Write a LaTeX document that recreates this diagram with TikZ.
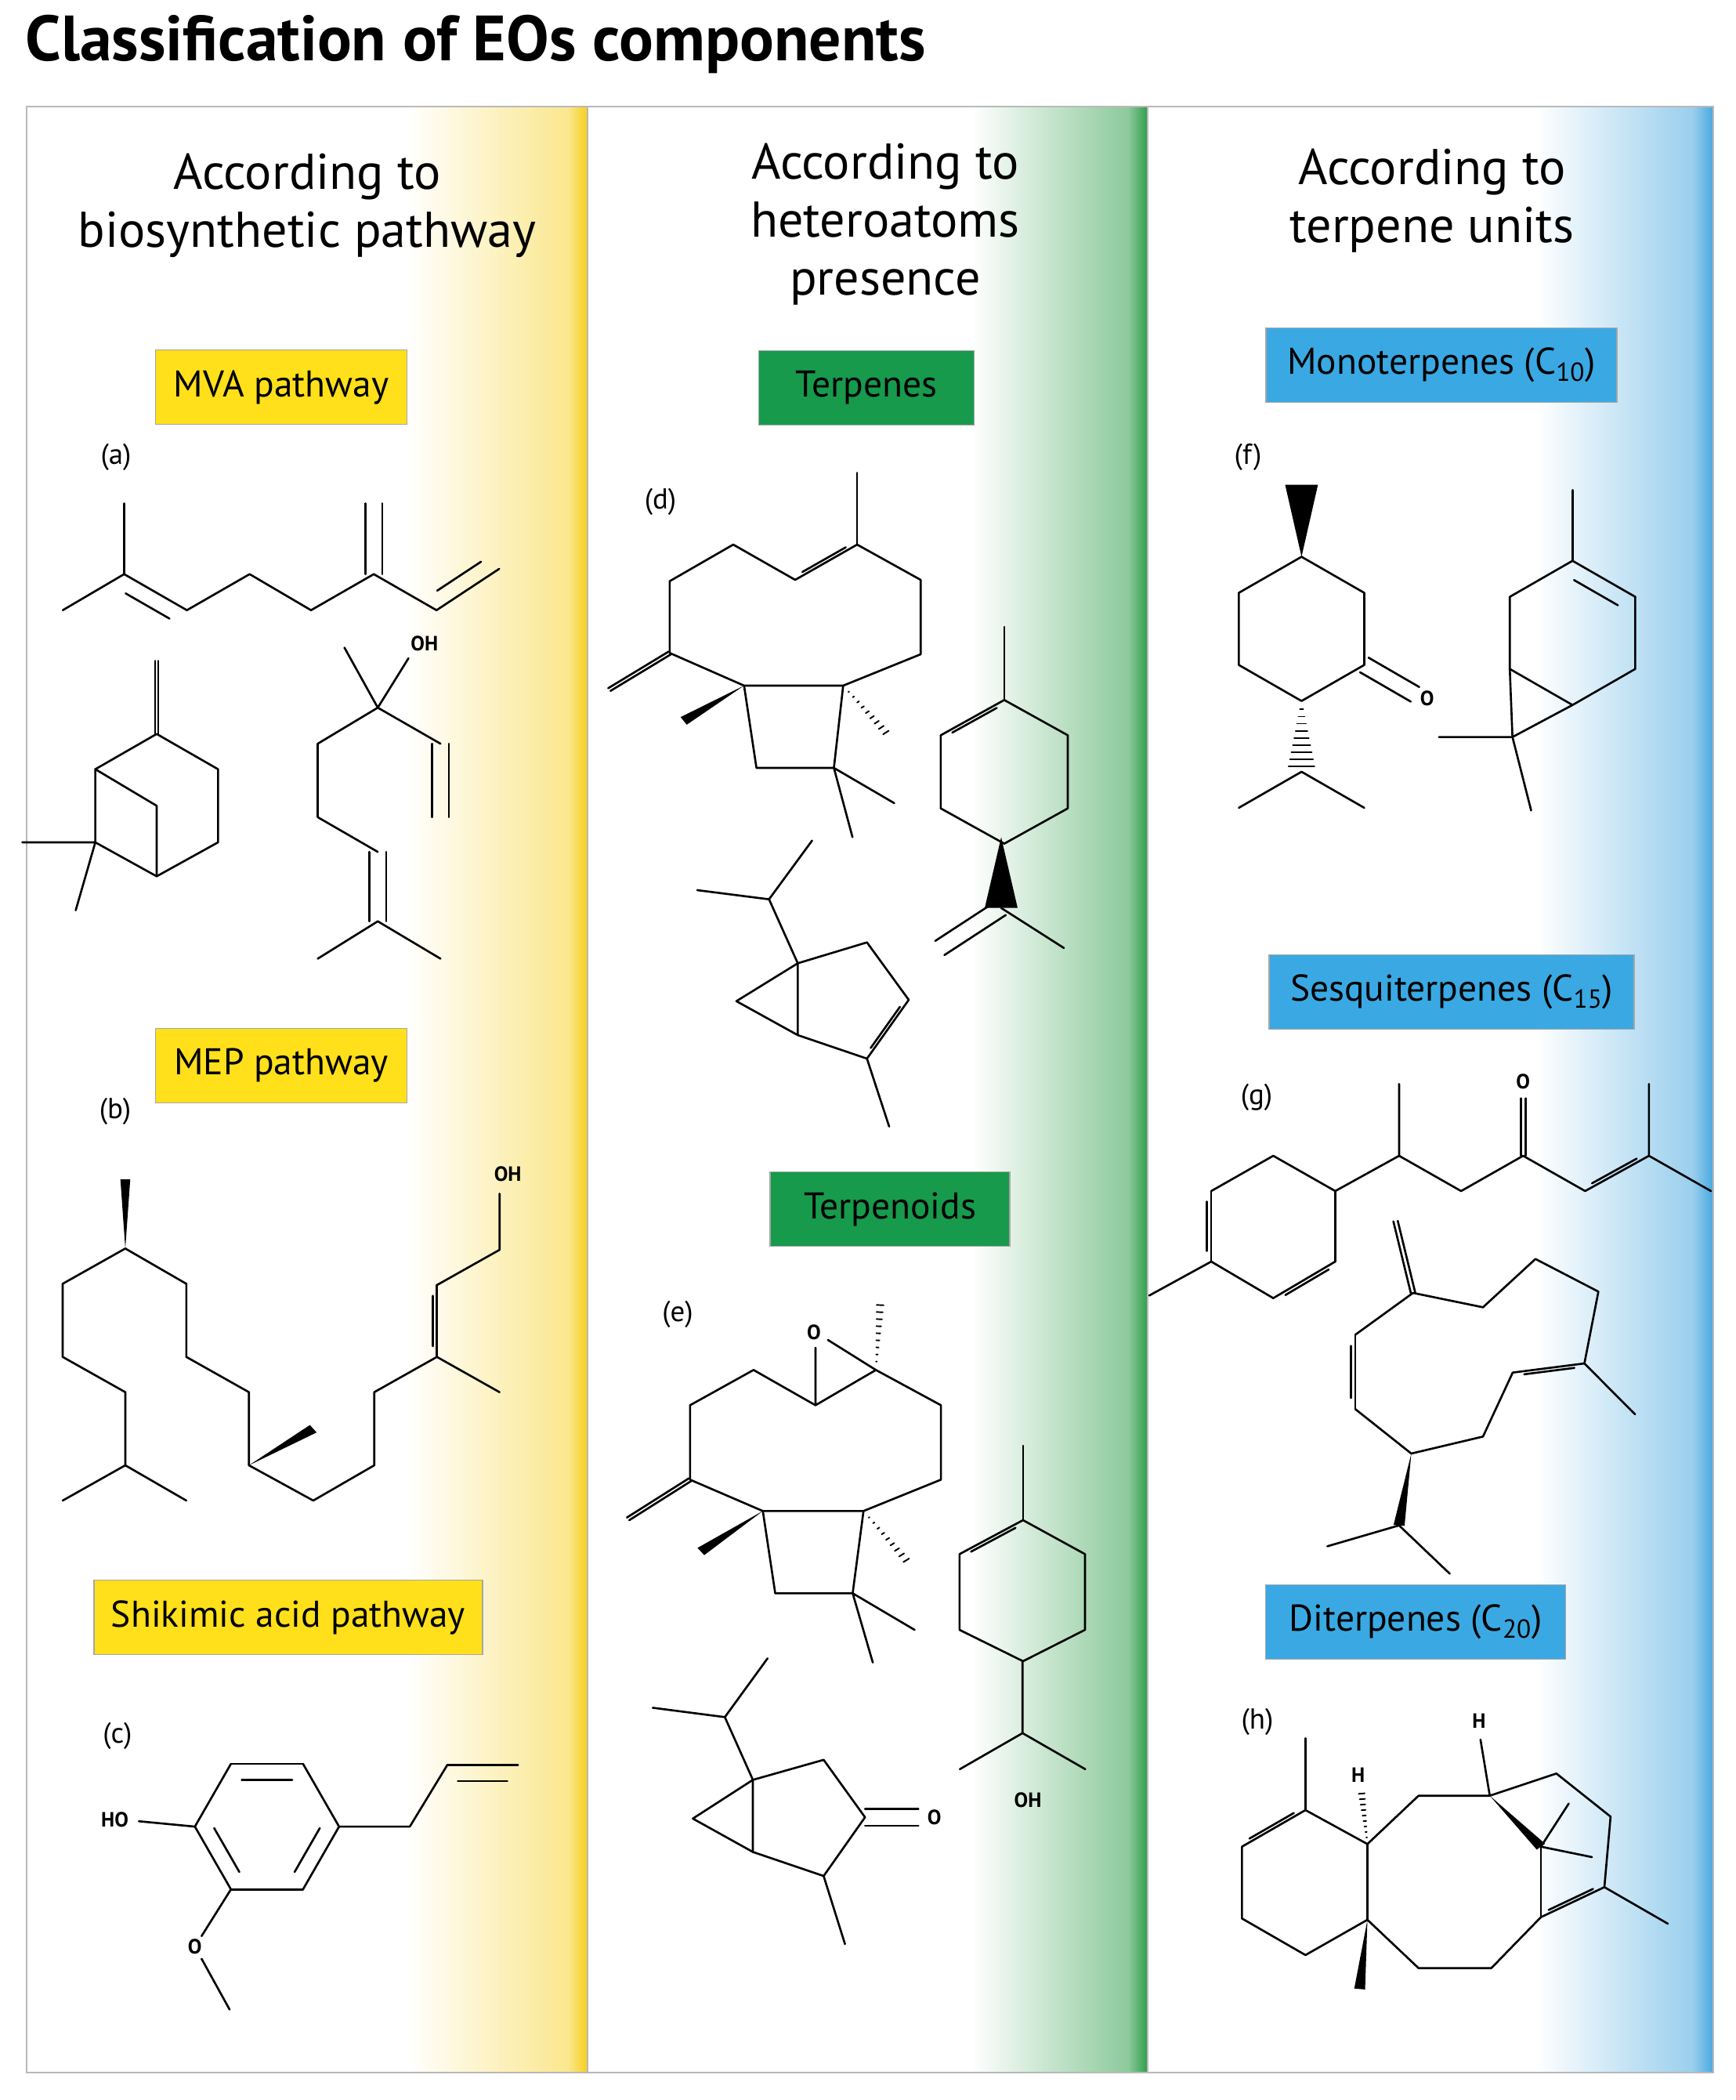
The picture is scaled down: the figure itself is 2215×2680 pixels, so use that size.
\documentclass[tikz,border=0pt]{standalone}
\usepackage{fontspec}
\setmainfont{PT Sans}
\usetikzlibrary{calc}
\definecolor{yel}{HTML}{FFE01B}
\definecolor{yelE}{HTML}{F6CF1C}
\definecolor{grn}{HTML}{179A4C}
\definecolor{grnE}{HTML}{2F9E4A}
\definecolor{blu}{HTML}{3AA9E3}
\definecolor{bluE}{HTML}{48A8DF}
\newcommand\dbi[3]{\draw (#1)--(#2); \draw ($(#1)!0.15!(#2)!#3!90:(#2)$)--($(#2)!0.15!(#1)!#3!-90:(#1)$);}
\newcommand\dbc[2]{\draw ($(#1)!3.6pt!90:(#2)$)--($(#2)!3.6pt!-90:(#1)$); \draw ($(#1)!3.6pt!-90:(#2)$)--($(#2)!3.6pt!90:(#1)$);}
\newcommand\wdg[3]{\fill (#1)--($(#2)!#3!90:(#1)$)--($(#2)!#3!-90:(#1)$)--cycle;}
\newcommand\hsh[3]{\foreach \q in {0.12,0.22,...,1.0}{\draw[line width=1.1pt] ($(#1)!\q!(#2)!{\q*#3}!90:(#1)$)--($(#1)!\q!(#2)!{\q*#3}!-90:(#1)$);}}
\tikzset{
 bond/.style={line width=1.5pt, line cap=round, line join=round},
 hdr/.style={font=\fontsize{36.5}{42}\selectfont, align=center, text=black},
 lbox/.style={draw=gray!70, line width=1pt, minimum height=54pt, inner sep=0pt, font=\fontsize{27}{30}\selectfont},
 lab/.style={font=\fontsize{21}{24}\selectfont, inner sep=0pt},
 atm/.style={font=\bfseries\fontsize{15}{16}\selectfont, inner sep=0pt},
}
\begin{document}
\begin{tikzpicture}[x=0.02cm,y=-0.02cm]
\useasboundingbox (0,0) rectangle (2215,2680);
\fill[white] (0,0) rectangle (2215,2680);
% gradients
\shade[left color=white, right color=yelE!50] (520,136) rectangle (725,2645);
\shade[left color=yelE!50, right color=yelE] (725,136) rectangle (750,2645);
\shade[left color=white, right color=grnE!55] (1240,136) rectangle (1440,2645);
\shade[left color=grnE!55, right color=grnE] (1440,136) rectangle (1465,2645);
\shade[left color=white, right color=bluE!55] (1960,136) rectangle (2160,2645);
\shade[left color=bluE!55, right color=bluE] (2160,136) rectangle (2187,2645);
\draw[gray!55, line width=1pt] (34,136) rectangle (2187,2645);
\draw[gray!55, line width=1pt] (750,136)--(750,2645) (1465,136)--(1465,2645);
% title
\node[anchor=west, font=\bfseries\fontsize{46.5}{52}\selectfont, inner sep=0pt] (title) at (32,57) {Classification of EOs components};
% headers
\node[hdr] (h1) at (392,262) {According to\\biosynthetic pathway};
\node[hdr] (h2) at (1130,286) {According to\\heteroatoms\\presence};
\node[hdr] (h3) at (1828,256) {According to\\terpene units};
% boxes
\node[lbox, fill=yel, minimum width=182.6pt] (mva) at (359,494) {MVA pathway};
\node[lbox, fill=yel, minimum width=182.6pt] (mep) at (359,1360) {MEP pathway};
\node[lbox, fill=yel, minimum width=282pt] (shk) at (368,2064) {Shikimic acid pathway};
\node[lbox, fill=grn, minimum width=156.5pt] (terp) at (1106,495) {Terpenes};
\node[lbox, fill=grn, minimum width=174pt] (terpd) at (1136,1543) {Terpenoids};
\node[lbox, fill=blu, minimum width=255pt] (mono) at (1840,466) {Monoterpenes (C\textsubscript{10})};
\node[lbox, fill=blu, minimum width=265pt] (sesq) at (1853,1266) {Sesquiterpenes (C\textsubscript{15})};
\node[lbox, fill=blu, minimum width=218pt] (dit) at (1807,2070) {Diterpenes (C\textsubscript{20})};
% labels
\node[lab] (la) at (148,583) {(a)};
\node[lab] (lb) at (147,1418) {(b)};
\node[lab] (lc) at (150,2215) {(c)};
\node[lab] (ld) at (843,640) {(d)};
\node[lab] (le) at (865,1677) {(e)};
\node[lab] (lf) at (1593,583) {(f)};
\node[lab] (lg) at (1604,1400) {(g)};
\node[lab] (lh) at (1605,2197) {(h)};

\begin{scope}[bond]
% ===== display-estimated molecules (scale 1.704)
\begin{scope}[scale=1.704]
% myrcene
\draw (47,457)--(93,430)--(93,377);
\dbi{93,430}{140,457}{-6.8pt}
\draw (140,457)--(187,430)--(233,457)--(280,430);
\dbc{280,430}{280,377}
\draw (280,430)--(327,457);
\dbi{327,457}{374,426}{6.8pt}
% linalool
\draw (258,485)--(283,530)--(306,493);
\node[atm] (oh1) at (318,482) {OH};
\draw (283,530)--(330,557);
\dbc{330,557}{330,612}
\draw (283,530)--(238,557)--(238,612)--(283,638);
\dbc{283,638}{283,690}
\draw (238,718)--(283,690)--(330,718);
% eugenol
\draw (254,1368)--(227,1321);
\dbi{227,1321}{173,1321}{6.8pt}
\draw (173,1321)--(146,1368);
\dbi{146,1368}{173,1415}{6.8pt}
\draw (173,1415)--(227,1415);
\dbi{227,1415}{254,1368}{6.8pt}
\node[atm] (ho) at (86,1363) {HO};
\draw (104,1364)--(146,1368);
\draw (254,1368)--(307,1368)--(335,1322);
\dbi{335,1322}{388,1322}{-6.8pt}
\draw (173,1415)--(151,1450);
\node[atm] (om) at (146,1458) {O};
\draw (151,1467)--(172,1505);
% limonene lower part
\wdg{750,627}{750,680}{7pt}
\dbc{750,680}{704,710}
\draw (750,680)--(797,710);
% terpineol lower part
\draw (766,1244)--(766,1298)--(719,1325) (766,1298)--(813,1325);
\node[atm] (oh2) at (770,1348) {OH};
% thujone
\begin{scope}[shift={(-33,612)}]
\draw (522,667)--(576,674)--(608,630) (576,674)--(597,721);
\draw (597,721)--(650,706)--(681,749)--(650,793)--(597,775)--(597,721);
\draw (597,721)--(552,750)--(597,775);
\draw (650,793)--(666,844);
\dbc{681,749}{721,749}
\node[atm] (o3) at (733,749) {O};
\end{scope}
% menthone
\draw (975,417)--(1022,444)--(1022,498)--(975,525)--(928,498)--(928,444)--cycle;
\wdg{975,417}{975,363}{7pt}
\dbc{1022,498}{1060,520}
\node[atm] (o4) at (1069,523) {O};
\hsh{975,525}{975,578}{6pt}
\draw (928,605)--(975,578)--(1022,605);
% carene
\draw (1178,420)--(1178,367);
\dbi{1178,420}{1225,447}{-6.8pt}
\draw (1225,447)--(1225,501)--(1178,528)--(1131,501)--(1131,447)--(1178,420);
\draw (1131,501)--(1133,552)--(1178,528);
\draw (1078,552)--(1133,552)--(1147,607);
\end{scope}

% ===== beta-pinene (zoom 5)
\begin{scope}[shift={(0,800)}, xscale=1/3, yscale=1/3]
\dbc{600,410}{600,130}
\draw (600,410)--(835,545)--(835,825)--(600,955)--(365,825)--(365,545)--(600,410);
\draw (365,545)--(600,685)--(600,955);
\draw (85,825)--(365,825)--(290,1085);
\end{scope}

% ===== thujene (zoom 6)
\begin{scope}[shift={(835,1056)}, xscale=1/3, yscale=1/3]
\draw (165,240)--(440,275)--(605,50) (440,275)--(550,520);
\draw (550,520)--(815,440)--(975,660);
\dbi{975,660}{815,885}{-6.8pt}
\draw (815,885)--(550,795)--(550,520)--(315,665)--(550,795);
\draw (815,885)--(900,1145);
\end{scope}

% ===== caryophyllene + limonene ring (zoom 10)
\begin{scope}[shift={(760,580)}, xscale=0.3954, yscale=1/3]
\draw (845,345)--(845,70);
\draw (845,345)--(1050,480)--(1050,765)--(800,885)--(480,885)--(240,760)--(240,485)--(445,345)--(645,480);
\dbi{645,480}{845,345}{6.8pt}
\dbc{240,760}{45,900}
\draw (480,885)--(520,1200)--(770,1200)--(800,885);
\draw (965,1335)--(770,1200)--(830,1465);
\wdg{480,885}{285,1020}{10pt}
\hsh{800,885}{950,1080}{7pt}
\draw (1320,660)--(1320,940);
\draw (1320,940)--(1525,1075)--(1525,1355)--(1320,1490)--(1115,1355)--(1115,1075);
\dbi{1115,1075}{1320,940}{-6.8pt}
\end{scope}

% ===== caryophyllene oxide + terpineol ring (zoom 11)
\begin{scope}[shift={(780,1620)}, xscale=0.3954, yscale=1/3]
\node[atm] (o5) at (655,240) {O};
\draw (660,300)--(660,520)--(855,385)--(700,270);
\hsh{855,385}{870,115}{7pt}
\draw (855,385)--(1065,520)--(1065,805)--(815,925)--(490,925)--(255,805)--(255,520)--(460,385)--(660,520);
\dbc{255,805}{55,955}
\draw (490,925)--(530,1240)--(780,1240)--(815,925);
\draw (980,1380)--(780,1240)--(845,1505);
\wdg{490,925}{290,1080}{10pt}
\hsh{815,925}{965,1130}{7pt}
\draw (1330,675)--(1330,960);
\draw (1330,960)--(1530,1090)--(1530,1380)--(1330,1500)--(1125,1380)--(1125,1090);
\dbi{1125,1090}{1330,960}{-6.8pt}
\end{scope}

% ===== phytol (zoom 12)
\begin{scope}[shift={(40,1460)}, xscale=0.4209, yscale=1/3]
\wdg{285,400}{285,135}{8.5pt}
\draw (285,400)--(95,535)--(95,815)--(285,950)--(285,1230)--(95,1365);
\draw (285,1230)--(470,1365);
\draw (285,400)--(470,535)--(470,815)--(660,950)--(660,1230);
\wdg{660,1230}{855,1090}{10pt}
\draw (660,1230)--(855,1365)--(1040,1230)--(1040,950)--(1230,815)--(1420,950);
\dbi{1230,815}{1230,540}{6.8pt}
\draw (1230,540)--(1420,405)--(1420,190);
\node[atm] (oh3) at (1445,115) {OH};
\end{scope}

% ===== turmerone (zoom 9)
\begin{scope}[shift={(1460,1340)}, xscale=0.4656, yscale=1/3]
\draw (185,540)--(355,405)--(525,540)--(525,810);
\dbi{525,810}{355,950}{6.8pt}
\draw (355,950)--(185,810);
\dbi{185,810}{185,540}{6.8pt}
\draw (185,810)--(15,940);
\draw (525,540)--(700,405)--(700,130);
\draw (700,405)--(870,540)--(1040,405);
\dbc{1040,405}{1040,185}
\node[atm] (o6) at (1040,120) {O};
\draw (1040,405)--(1210,540);
\dbi{1210,540}{1385,405}{6.8pt}
\draw (1385,130)--(1385,405)--(1555,540);
\end{scope}

% ===== germacrene D (zoom 7)
\begin{scope}[shift={(1460,1530)}, xscale=0.4464, yscale=1/3]
\dbc{770,360}{720,85}
\draw (770,360)--(970,415)--(1120,230)--(1300,355)--(1260,630);
\dbi{1260,630}{1055,665}{6.8pt}
\draw (1260,630)--(1405,825);
\draw (1055,665)--(970,910)--(765,975)--(605,805);
\dbi{605,805}{605,520}{6.8pt}
\draw (605,520)--(770,360);
\wdg{765,975}{730,1250}{9pt}
\draw (525,1330)--(730,1250)--(875,1435);
\end{scope}

% ===== diterpene (zoom 8)
\begin{scope}[shift={(1530,2160)}, xscale=0.3954, yscale=1/3]
\draw (345,175)--(345,450);
\dbi{345,450}{140,590}{-6.8pt}
\draw (140,590)--(140,865)--(345,1005)--(545,870)--(545,580)--(345,450);
\hsh{545,580}{525,370}{6pt}
\node[atm] (h1a) at (515,315) {H};
\draw (545,580)--(710,395)--(940,395);
\draw (940,395)--(910,180);
\node[atm] (h2a) at (905,110) {H};
\draw (940,395)--(1155,310)--(1330,475)--(1310,745);
\dbi{1310,745}{1105,860}{-6.8pt}
\draw (1310,745)--(1515,885);
\draw (1105,860)--(1105,590);
\wdg{940,395}{1105,590}{10pt}
\draw (1195,425)--(1105,590)--(1270,630);
\draw (545,870)--(710,1055)--(945,1055)--(1105,860);
\wdg{545,870}{520,1135}{10pt}
\end{scope}
\end{scope}
\end{tikzpicture}
\end{document}
